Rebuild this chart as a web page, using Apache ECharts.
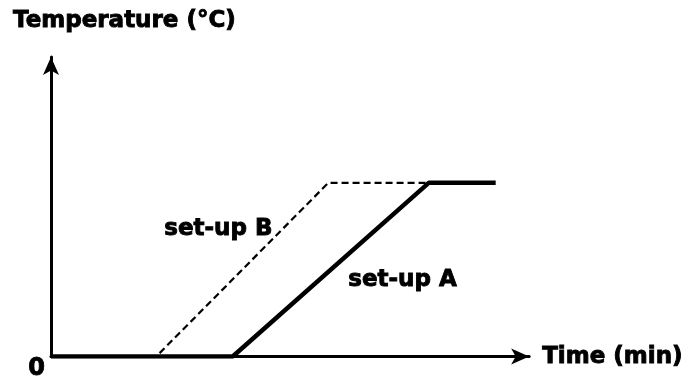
<!DOCTYPE html>
<html>
<head>
<meta charset="utf-8">
<script src="https://cdn.jsdelivr.net/npm/echarts@6/dist/echarts.min.js"></script>
<style>
html,body{margin:0;padding:0;background:#fff;}
#c{width:686px;height:381px;}
</style>
</head>
<body>
<div id="c"></div>
<script>
// Data (time in arbitrary units 0-100, temperature 0-100)
const setupA = [[0, 0], [38, 0], [79, 58], [93, 58]];
const setupB = [[0, 0], [22, 0], [58, 58], [79, 58]];
const labelA = { text: 'set-up A', coord: [73.5, 25.5] };
const labelB = { text: 'set-up B', coord: [35, 42.5] };
const yTickLabels = ['0'];
const yTitle = 'Temperature (°C)';
const xTitle = 'Time (min)';

const FONT = '"DejaVu Sans", sans-serif';
const heavy = { fontFamily: FONT, fontWeight: 'bold', color: '#000', textBorderColor: '#000', textBorderWidth: 0.9 };
const chart = echarts.init(document.getElementById('c'), null, { renderer: 'canvas' });
chart.setOption({
  animation: false,
  backgroundColor: '#fff',
  title: {
    text: yTitle, left: 13, top: 10, padding: 0,
    textStyle: Object.assign({ fontSize: 23 }, heavy)
  },
  grid: { left: 51, right: 154, top: 57, bottom: 22, containLabel: false },
  xAxis: {
    type: 'value', min: 0, max: 100, interval: 100,
    name: xTitle, nameLocation: 'end', nameGap: 13,
    nameTextStyle: Object.assign({ fontSize: 23, verticalAlign: 'middle' }, heavy),
    axisLine: { show: true, symbol: ['none', 'arrow'], symbolSize: [12, 18], lineStyle: { color: '#000', width: 3 } },
    axisTick: { show: false }, axisLabel: { show: false }, splitLine: { show: false }
  },
  yAxis: {
    type: 'value', min: 0, max: 100, interval: 100,
    axisLine: { show: true, symbol: ['none', 'arrow'], symbolSize: [12, 18], lineStyle: { color: '#000', width: 3 } },
    axisTick: { show: false }, splitLine: { show: false },
    axisLabel: Object.assign({
      margin: 6, verticalAlign: 'top', fontSize: 24,
      formatter: v => (v === 0 ? yTickLabels[0] : '')
    }, heavy)
  },
  series: [
    {
      name: 'set-up B', type: 'line', data: setupB, symbol: 'none',
      lineStyle: { color: '#000', width: 2.2, type: [7, 4] }, z: 2,
      markPoint: {
        symbol: 'circle', symbolSize: 0,
        label: Object.assign({ show: true, formatter: labelB.text, fontSize: 23, position: 'inside' }, heavy),
        data: [{ coord: labelB.coord }]
      }
    },
    {
      name: 'set-up A', type: 'line', data: setupA, symbol: 'none',
      lineStyle: { color: '#000', width: 4.5, type: 'solid' }, z: 3,
      markPoint: {
        symbol: 'circle', symbolSize: 0,
        label: Object.assign({ show: true, formatter: labelA.text, fontSize: 23, position: 'inside' }, heavy),
        data: [{ coord: labelA.coord }]
      }
    }
  ]
});
</script>
</body>
</html>
